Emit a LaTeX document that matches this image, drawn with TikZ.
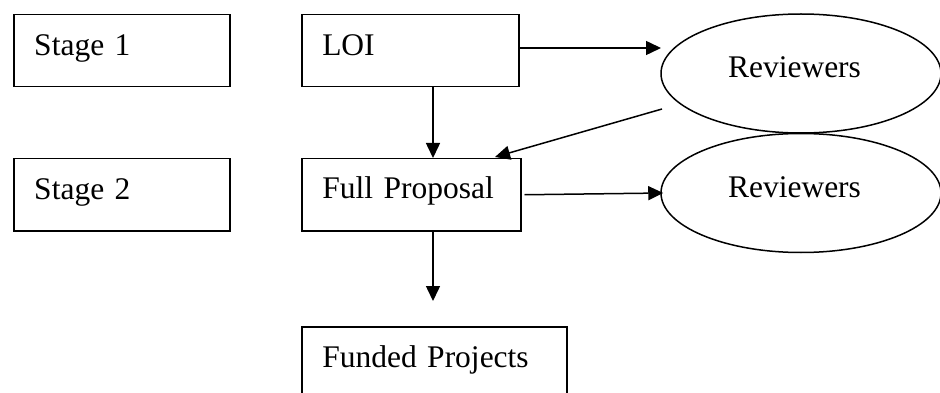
\documentclass[tikz,border=0pt]{standalone}
\usepackage{fontspec}
\setmainfont{Liberation Serif}
\usetikzlibrary{shapes.geometric,arrows.meta}
\begin{document}
\begin{tikzpicture}[x=1pt,y=-1pt,
  every node/.style={font=\fontsize{31.5}{38}\selectfont},
  box/.style={draw,line width=1.5pt,rectangle,anchor=north west,inner ysep=0pt,inner xsep=20.5pt,align=left,text height=41pt,text depth=31pt},
  oval/.style={draw,line width=1.5pt,ellipse,inner sep=0pt,minimum width=280pt,minimum height=119pt,text height=22pt,text depth=13pt},
  arr/.style={line width=1.5pt,-{Triangle[length=15pt,width=14pt]}}]
\useasboundingbox (0,0) rectangle (940,393);
\clip (0,0) rectangle (940,393);
\node[box,text width=175pt] (s1) at (13,14) {Stage 1};
\node[box,text width=175pt,text height=41pt,text depth=31pt] (s2) at (13,158) {Stage 2};
\node[box,text width=176pt] (loi) at (301,14) {LOI};
\node[box,text width=178pt,text height=40pt,text depth=32pt] (fp) at (301,158) {Full Proposal};
\node[box,text width=224pt] (fund) at (301,326) {Funded Projects};
\node[oval] (rev1) at (801,73.5) {Reviewers\hspace*{13pt}};
\node[oval] (rev2) at (801,193) {Reviewers\hspace*{13pt}};
\coordinate (t1) at (661,48);
\coordinate (d1) at (662,109);
\coordinate (d2) at (495,157);
\coordinate (vx) at (433,0);
\coordinate (t3) at (433,301);
\draw[arr] (loi.east |- t1) -- (t1);
\draw[arr] (d1) -- (d2);
\draw[arr] ([xshift=3pt]fp.east) -- ([xshift=3pt]rev2.west);
\draw[arr] (loi.south -| vx) -- (fp.north -| vx);
\draw[arr] (fp.south -| vx) -- (t3);
\end{tikzpicture}
\end{document}
